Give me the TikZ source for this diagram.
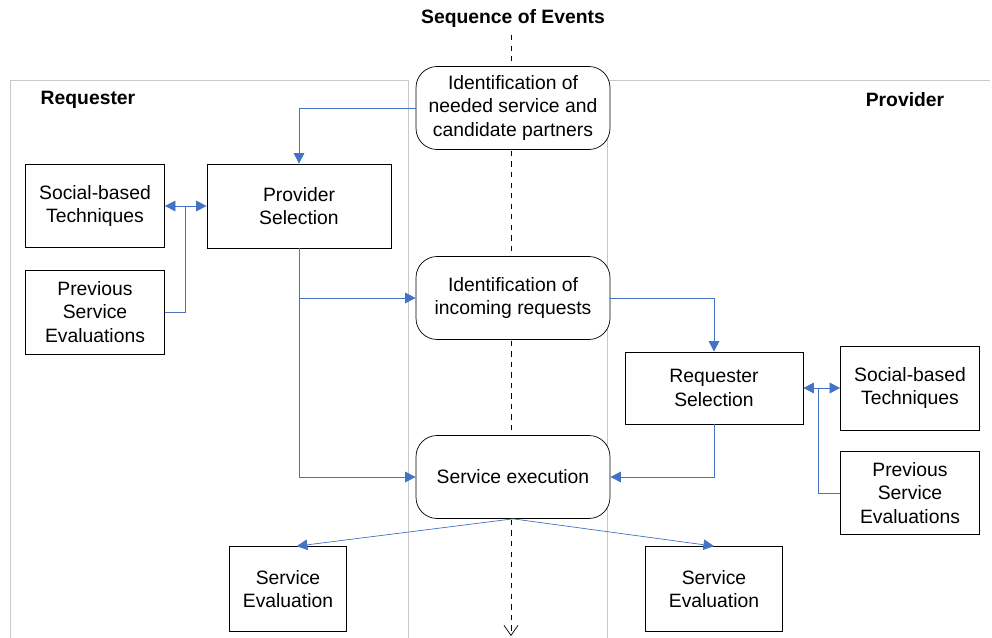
\documentclass[tikz,border=0pt]{standalone}
\usepackage{fontspec}
\setmainfont{Liberation Sans}
\usetikzlibrary{arrows.meta,calc}
\definecolor{linkblue}{RGB}{68,114,196}
\definecolor{panelgray}{RGB}{200,200,200}
\tikzset{
  stage/.style={draw, fill=white, rounded corners=12pt, align=center, minimum width=3.88cm, minimum height=1.66cm, font=\fontsize{11}{13.2}\selectfont},
  task/.style={draw, fill=white, align=center, font=\fontsize{11}{13.2}\selectfont},
  link/.style={draw=linkblue, thin, -{Triangle[width=6pt,length=6pt]}},
  dlink/.style={draw=linkblue, thin, {Triangle[width=6pt,length=6pt]}-{Triangle[width=6pt,length=6pt]}},
  plain/.style={draw=linkblue, thin},
  heading/.style={font=\bfseries\fontsize{11}{13}\selectfont}
}
\begin{document}
\begin{tikzpicture}[x=0.02cm, y=-0.02cm]
  \useasboundingbox (0,0) rectangle (992,638);
  % Panels and time line
  \draw[panelgray] (10,638) -- (10,80) -- (408,80) -- (408,638);
  \draw[panelgray] (990,80) -- (607,80) -- (607,638);
  \node[heading] (title) at (513,19) {Sequence of Events};
  \coordinate (tstart) at (511,35);
  \coordinate (tend) at (511,636);
  \draw[dashed, -{Straight Barb[open, angle=70:7pt]}] (tstart) -- (tend);
  \node[heading] (reqhead) at (88,100) {Requester};
  \node[heading] (provhead) at (905,100) {Provider};

  \node[stage] (ident) at (513,108) {Identification of\\needed service and\\candidate partners};
  \node[stage] (incoming) at (513,298) {Identification of\\incoming requests};
  \node[stage] (exec) at (513,477) {Service execution};

  \node[task, minimum width=3.68cm, minimum height=1.68cm] (provsel) at (299,206) {Provider\\Selection};
  \node[task, minimum width=2.78cm, minimum height=1.66cm] (socL) at (95,206) {Social-based\\Techniques};
  \node[task, minimum width=2.78cm, minimum height=1.68cm] (prevL) at (95,312) {Previous\\Service\\Evaluations};

  \node[task, minimum width=3.56cm, minimum height=1.44cm] (reqsel) at (714,388) {Requester\\Selection};
  \node[task, minimum width=2.78cm, minimum height=1.68cm] (socR) at (910,388) {Social-based\\Techniques};
  \node[task, minimum width=2.78cm, minimum height=1.66cm] (prevR) at (910,493) {Previous\\Service\\Evaluations};

  \node[task, minimum width=2.34cm, minimum height=1.7cm] (evalL) at (288,589) {Service\\Evaluation};
  \node[task, minimum width=2.74cm, minimum height=1.7cm] (evalR) at (714,589) {Service\\Evaluation};

  \coordinate (jl) at ($(socL.east)!0.5!(provsel.west)$);
  \coordinate (jr) at ($(reqsel.east)!0.4!(socR.west)$);

  \draw[link] (ident.west) -| (provsel.north);
  \draw[dlink] (socL.east) -- (provsel.west);
  \draw[plain] (prevL.east) -| (jl);
  \draw[link] (provsel.south) |- (exec.west);
  \draw[link] (provsel.south |- incoming.west) -- (incoming.west);

  \draw[link] (incoming.east) -| (reqsel.north);
  \draw[dlink] (reqsel.east) -- (socR.west);
  \draw[plain] (prevR.west) -| (jr);
  \draw[link] (reqsel.south) |- (exec.east);

  \draw[link] (exec.south) -- ([xshift=5pt]evalL.north);
  \draw[link] (exec.south) -- (evalR.north);
\end{tikzpicture}
\end{document}
